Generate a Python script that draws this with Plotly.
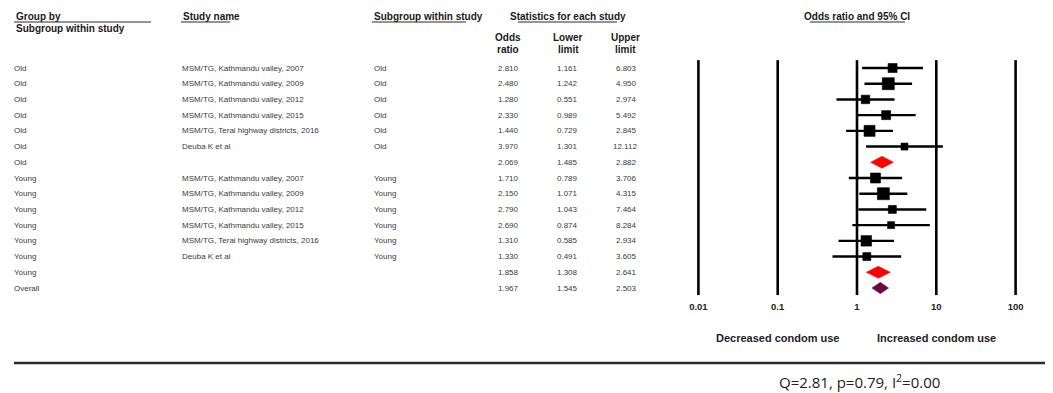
import plotly.graph_objects as go

# ---------------- data ----------------
groups = ["Old"] * 7 + ["Young"] * 7 + ["Overall"]
study_names = [
    "MSM/TG, Kathmandu valley, 2007",
    "MSM/TG, Kathmandu valley, 2009",
    "MSM/TG, Kathmandu valley, 2012",
    "MSM/TG, Kathmandu valley, 2015",
    "MSM/TG, Terai highway districts, 2016",
    "Deuba K et al",
    "",
    "MSM/TG, Kathmandu valley, 2007",
    "MSM/TG, Kathmandu valley, 2009",
    "MSM/TG, Kathmandu valley, 2012",
    "MSM/TG, Kathmandu valley, 2015",
    "MSM/TG, Terai highway districts, 2016",
    "Deuba K et al",
    "",
    "",
]
subgroups = ["Old"] * 6 + [""] + ["Young"] * 6 + ["", ""]
odds_ratio = [2.810, 2.480, 1.280, 2.330, 1.440, 3.970, 2.069,
              1.710, 2.150, 2.790, 2.690, 1.310, 1.330, 1.858, 1.967]
lower_limit = [1.161, 1.242, 0.551, 0.989, 0.729, 1.301, 1.485,
               0.789, 1.071, 1.043, 0.874, 0.585, 0.491, 1.308, 1.545]
upper_limit = [6.803, 4.950, 2.974, 5.492, 2.845, 12.112, 2.882,
               3.706, 4.315, 7.464, 8.284, 2.934, 3.605, 2.641, 2.503]
weights = [9, 12, 8.5, 9, 11, 7, 0, 10, 12, 8, 7, 10.5, 8, 0, 0]
row_type = ["study"] * 6 + ["sub"] + ["study"] * 6 + ["sub", "overall"]
tick_values = [0.01, 0.1, 1, 10, 100]
tick_labels = ["0.01", "0.1", "1", "10", "100"]
stats_text = "Q=2.81, p=0.79, I<sup>2</sup>=0.00"

# ---------------- geometry helpers ----------------
W, H = 1053, 393
OFF = 8                      # page body margin of the html page
WF, HF = W - OFF, H - OFF    # figure size
ROW0, ROWH = 68.0, 15.714    # page pixel y of first row, row spacing
X1PX, DEC = 857.0, 79.3      # page pixel x of OR=1, pixels per decade


def pxx(p):
    return (p - OFF) / WF


def pxy(p):
    return 1 - (p - OFF) / HF


rows = list(range(len(odds_ratio)))
y_range = [(H - ROW0) / ROWH, (OFF - ROW0) / ROWH]
x_range = [(OFF - X1PX) / DEC, (W - X1PX) / DEC]

fig = go.Figure()

# vertical reference lines
for tv in tick_values:
    fig.add_shape(type="line", xref="x", yref="y", x0=tv, x1=tv,
                  y0=-0.5, y1=14.45, line=dict(color="black", width=2.6))

# confidence-interval lines for individual studies
ci_x, ci_y = [], []
for r, lo, hi, t in zip(rows, lower_limit, upper_limit, row_type):
    if t == "study":
        ci_x += [lo, hi, None]
        ci_y += [r, r, None]
fig.add_trace(go.Scatter(x=ci_x, y=ci_y, mode="lines",
                         line=dict(color="black", width=2.4),
                         hoverinfo="skip", showlegend=False))

# squares
sx = [o for o, t in zip(odds_ratio, row_type) if t == "study"]
sy = [r for r, t in zip(rows, row_type) if t == "study"]
ss = [w for w, t in zip(weights, row_type) if t == "study"]
fig.add_trace(go.Scatter(x=sx, y=sy, mode="markers",
                         marker=dict(symbol="square", size=ss, color="#000000",
                                     opacity=1, line=dict(width=0.6, color="#000000")),
                         showlegend=False))

# diamonds
for r, o, lo, hi, t in zip(rows, odds_ratio, lower_limit, upper_limit, row_type):
    if t == "study":
        continue
    col = "#ff0000" if t == "sub" else "#6a0b3c"
    hh = 0.38 if t == "sub" else 0.36
    fig.add_trace(go.Scatter(x=[lo, o, hi, o, lo], y=[r, r - hh, r, r + hh, r],
                             mode="lines", fill="toself", fillcolor=col,
                             line=dict(color=col, width=0.5),
                             showlegend=False, hoverinfo="skip"))

# tick labels
fig.add_trace(go.Scatter(x=tick_values, y=[15.27] * 5, mode="text",
                         text=[f"<b>{t}</b>" for t in tick_labels],
                         textfont=dict(family="Liberation Sans", size=9.5,
                                       color="#222"),
                         textposition="middle center", showlegend=False,
                         hoverinfo="skip"))

# ---------------- table text ----------------
DATA_FONT = dict(family="Liberation Sans", size=8, color="#3a3a3a")
HEAD_FONT = dict(family="Liberation Sans", size=10, color="#1a1a1a")

ann = []
for r in rows:
    ann.append(dict(x=pxx(12), y=r, xref="paper", yref="y", text=groups[r],
                    xanchor="left", yanchor="middle", showarrow=False,
                    font=DATA_FONT))
    if study_names[r]:
        ann.append(dict(x=pxx(180), y=r, xref="paper", yref="y",
                        text=study_names[r], xanchor="left", yanchor="middle",
                        showarrow=False, font=DATA_FONT))
    if subgroups[r]:
        ann.append(dict(x=pxx(372), y=r, xref="paper", yref="y",
                        text=subgroups[r], xanchor="left", yanchor="middle",
                        showarrow=False, font=DATA_FONT))
    for xp, val in ((521, odds_ratio[r]), (580, lower_limit[r]),
                    (639, upper_limit[r])):
        ann.append(dict(x=pxx(xp), y=r, xref="paper", yref="y",
                        text=f"{val:.3f}", xanchor="right", yanchor="middle",
                        showarrow=False, font=DATA_FONT))

# headers
headers = [
    ("<b>Group by</b>", 14, 16, "left"),
    ("<b>Subgroup within study</b>", 14, 28, "left"),
    ("<b>Study name</b>", 181, 16, "left"),
    ("<b>Subgroup within study</b>", 372, 16, "left"),
    ("<b>Statistics for each study</b>", 568, 16, "center"),
    ("<b>Odds ratio and 95% CI</b>", 857, 16, "center"),
    ("<b>Odds</b>", 508, 37, "center"),
    ("<b>ratio</b>", 508, 49, "center"),
    ("<b>Lower</b>", 568, 37, "center"),
    ("<b>limit</b>", 568, 49, "center"),
    ("<b>Upper</b>", 625, 37, "center"),
    ("<b>limit</b>", 625, 49, "center"),
]
for txt, xp, yp, anc in headers:
    ann.append(dict(x=pxx(xp), y=pxy(yp), xref="paper", yref="paper", text=txt,
                    xanchor=anc, yanchor="middle", showarrow=False,
                    font=HEAD_FONT))

ann.append(dict(x=pxx(778), y=pxy(338), xref="paper", yref="paper",
                text="<b>Decreased condom use</b>", xanchor="center",
                yanchor="middle", showarrow=False,
                font=dict(family="Liberation Sans", size=11, color="#222")))
ann.append(dict(x=pxx(936), y=pxy(338), xref="paper", yref="paper",
                text="<b>Increased condom use</b>", xanchor="center",
                yanchor="middle", showarrow=False,
                font=dict(family="Liberation Sans", size=11, color="#222")))
ann.append(dict(x=pxx(777), y=pxy(381), xref="paper", yref="paper",
                text=stats_text, xanchor="left", yanchor="middle",
                showarrow=False,
                font=dict(family="Open Sans", size=15, color="#222")))

# underlines & separator
lines = [(14, 151, 22, 1.2), (181, 230, 22, 1.2), (372, 466, 22, 1.2),
         (518, 617, 22, 1.2), (810, 905, 22, 1.2), (14, 1053, 363, 2.6)]
for x0, x1, yy, lw in lines:
    fig.add_shape(type="line", xref="paper", yref="paper",
                  x0=pxx(x0), x1=pxx(x1), y0=pxy(yy), y1=pxy(yy),
                  line=dict(color="#2a2a2a", width=lw))

fig.update_layout(
    width=WF, height=HF,
    margin=dict(l=0, r=0, t=0, b=0),
    paper_bgcolor="white", plot_bgcolor="white",
    annotations=ann,
    showlegend=False,
    xaxis=dict(type="log", range=x_range, domain=[0, 1], visible=False,
               fixedrange=True),
    yaxis=dict(range=y_range, domain=[0, 1], visible=False, fixedrange=True),
)

fig.write_html("out.html")
